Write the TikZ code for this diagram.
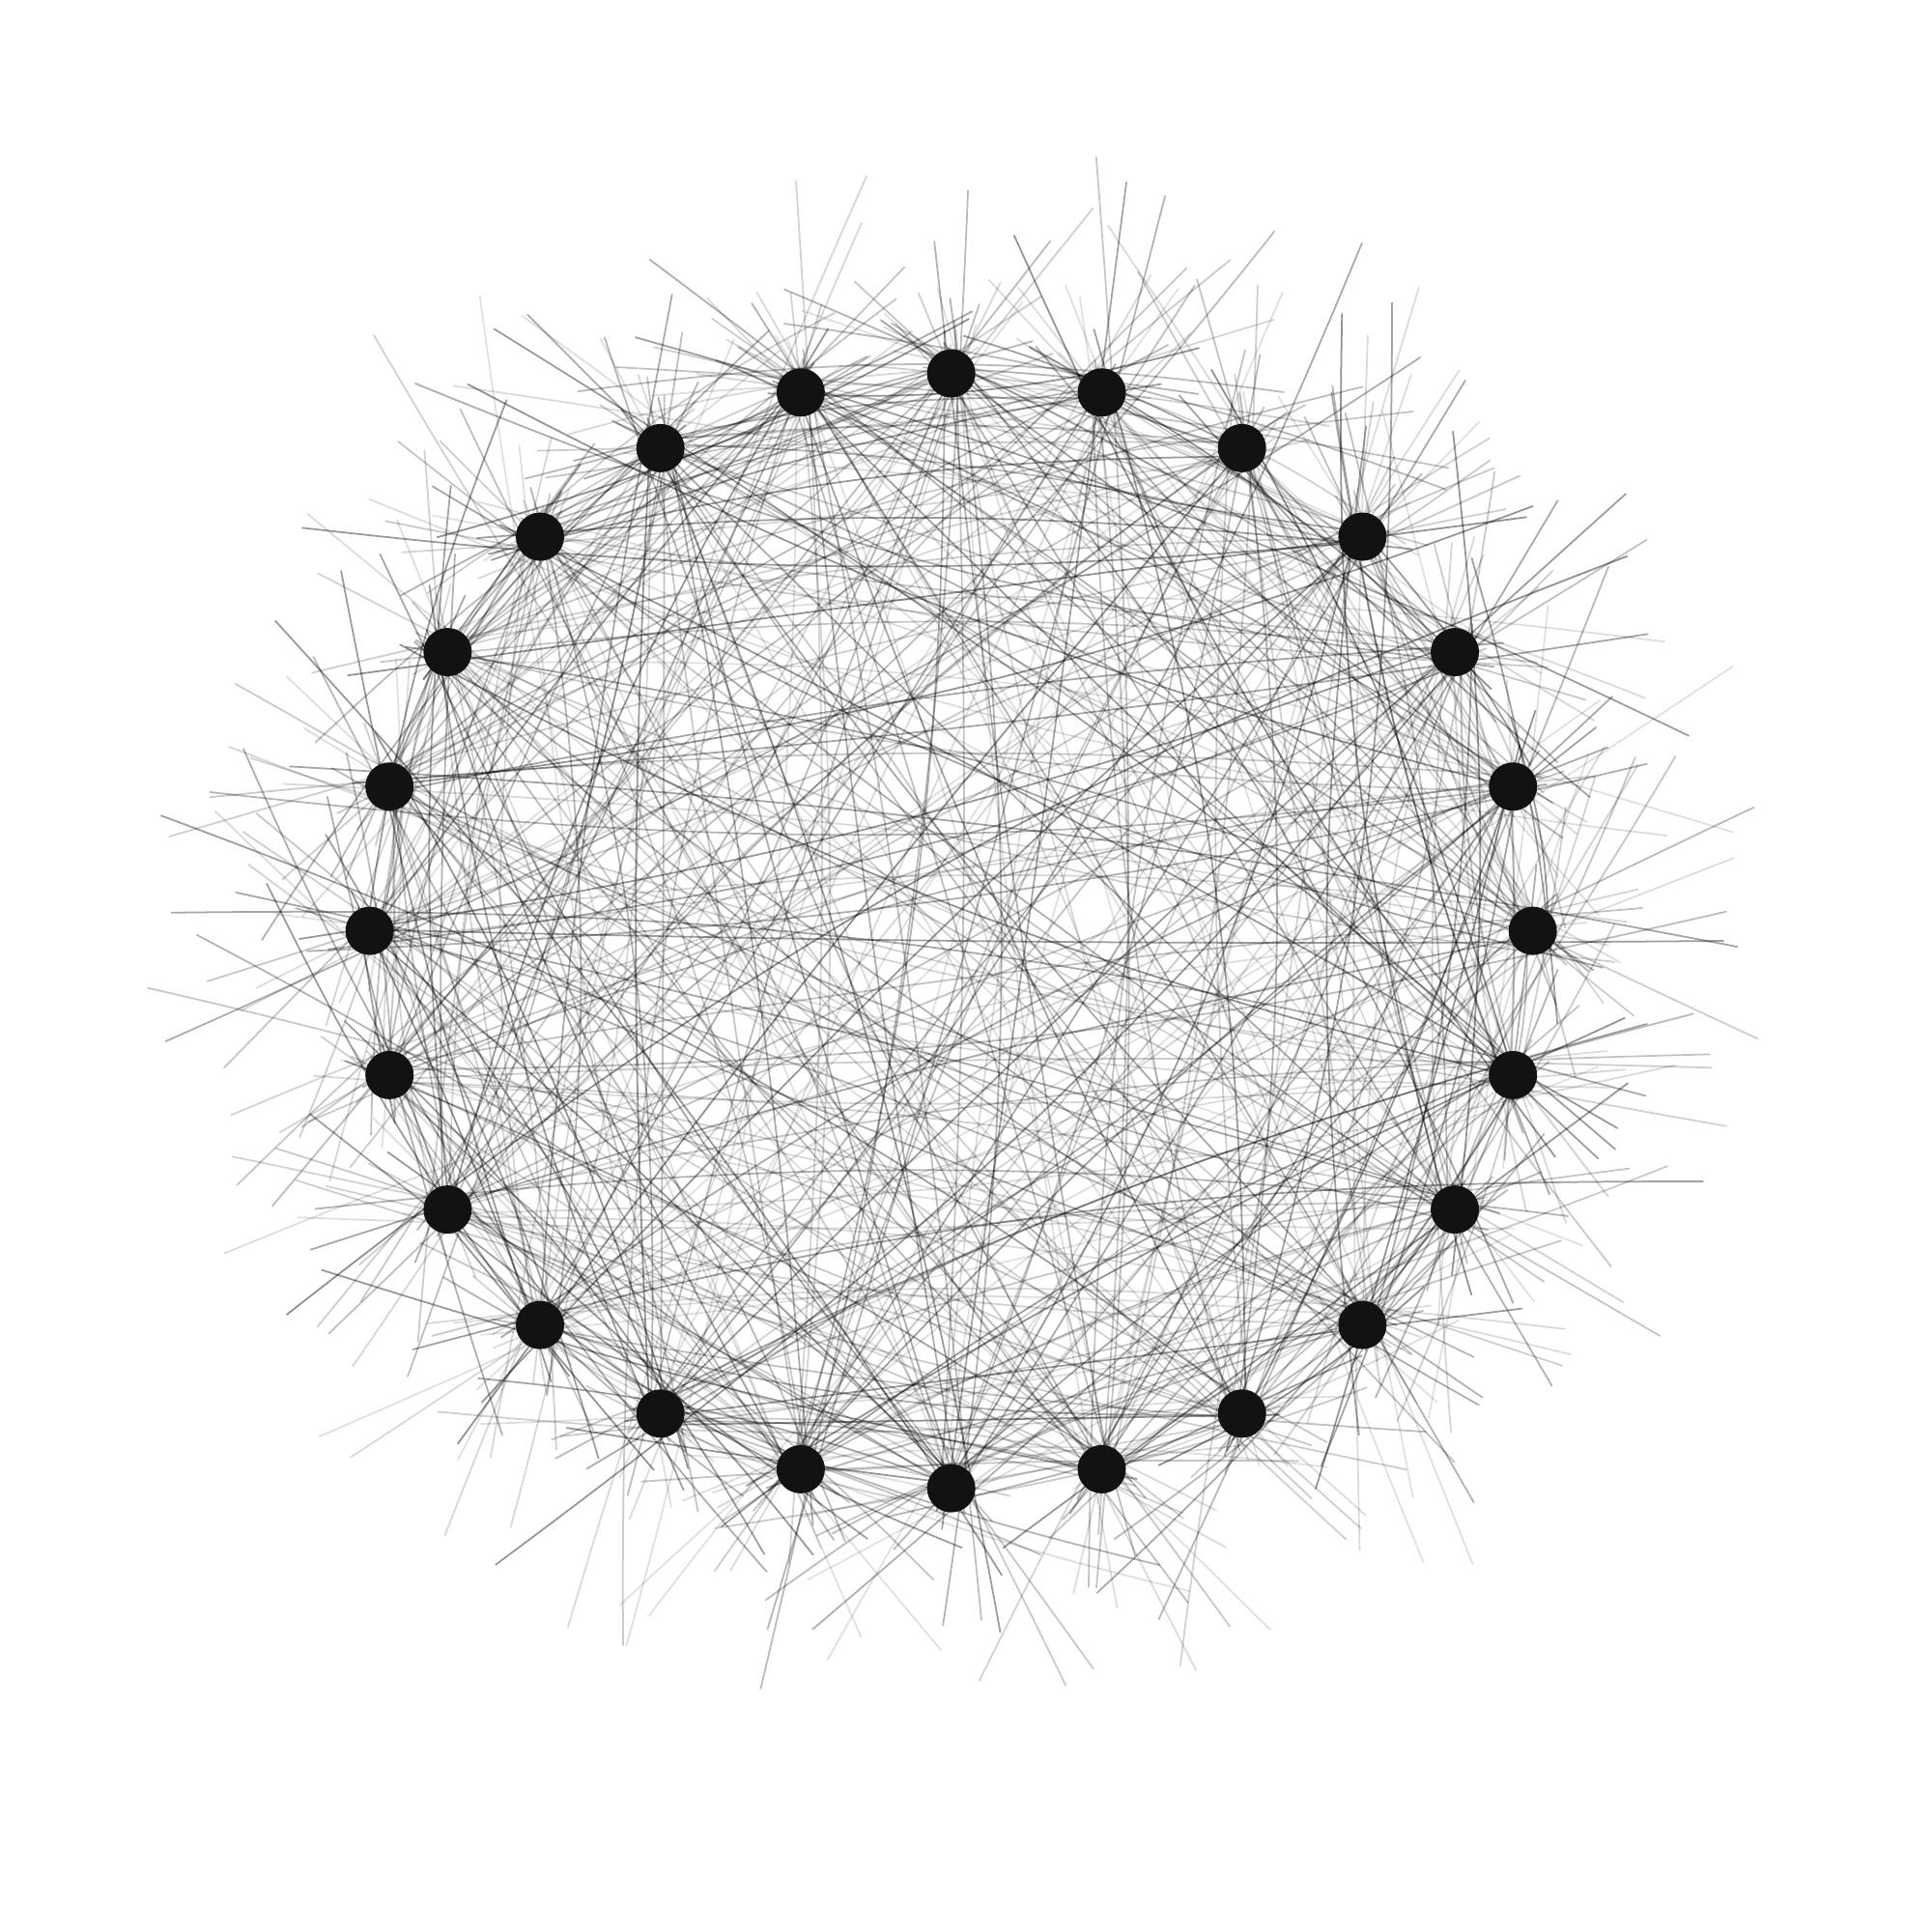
\documentclass[tikz,border=0pt]{standalone}
\usetikzlibrary{calc}
\pgfdeclarelayer{background}
\pgfsetlayers{background,main}
\tikzset{
  dot/.style={circle,fill=black!93,draw=none,inner sep=0pt,minimum size=0.5cm},
  edge/.style={draw=black,line width=0.5pt,line cap=round}
}
\begin{document}
\begin{tikzpicture}
\useasboundingbox (0,0) rectangle (20,20);
\pgfmathsetseed{11}
\foreach \i in {0,...,23}{
  \node[dot] (n\i) at ({9.847+6.02*sin(\i*15)},{10.364+5.77*cos(\i*15)}) {};
}
\begin{pgfonlayer}{background}
\fill[white] (0,0) rectangle (20,20);
\foreach \i in {0,...,22}{
  \pgfmathtruncatemacro\ip{\i+1}
  \foreach \j in {\ip,...,23}{
    \foreach \k in {1,2}{
      \pgfmathsetmacro\ea{0.05+2.6*rnd^2.2}
      \pgfmathsetmacro\eb{0.05+2.6*rnd^2.2}
      \pgfmathsetmacro\xa{0.13*rand}
      \pgfmathsetmacro\ya{0.13*rand}
      \pgfmathsetmacro\xb{0.13*rand}
      \pgfmathsetmacro\yb{0.13*rand}
      \pgfmathsetmacro\bnd{9*rand}
      \pgfmathsetmacro\op{0.12+0.32*rnd^1.5}
      \draw[edge,opacity=\op] ($(n\i.center)!-\ea cm!(n\j.center)+(\xa,\ya)$) to[bend left=\bnd] ($(n\j.center)!-\eb cm!(n\i.center)+(\xb,\yb)$);
    }
  }
}
\end{pgfonlayer}
\end{tikzpicture}
\end{document}
